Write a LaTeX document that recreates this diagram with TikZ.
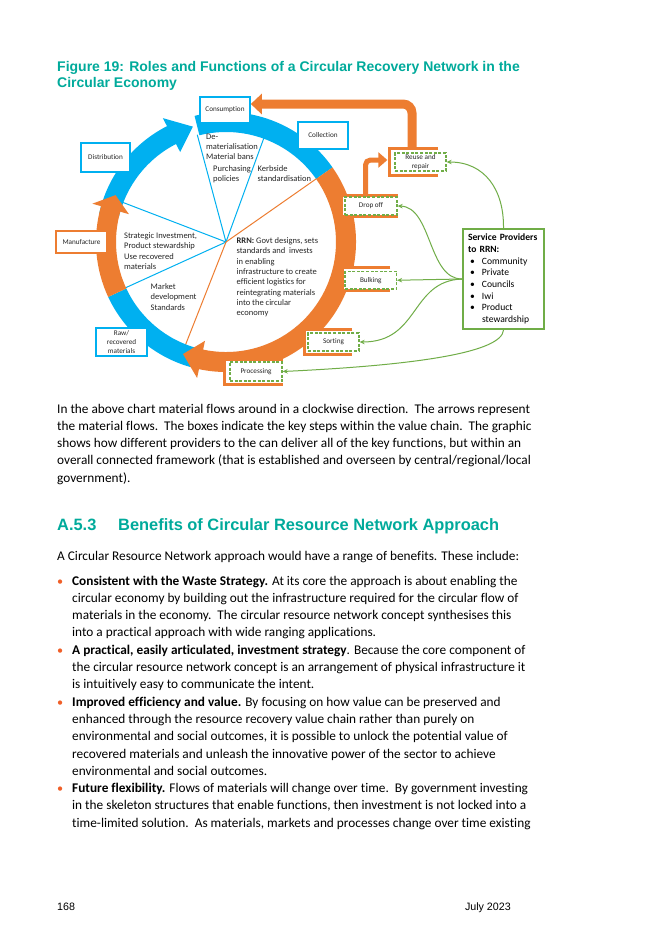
\documentclass[tikz,border=0pt]{standalone}
\usepackage{fontspec}
\setmainfont{Carlito}[Ligatures=CommonOff]
\newfontfamily\arialfont{Liberation Sans}
\usetikzlibrary{arrows.meta}
\definecolor{rrnblue}{RGB}{0,176,240}
\definecolor{rrnorange}{RGB}{237,125,49}
\definecolor{rrngreen}{RGB}{112,173,71}
\definecolor{rrnteal}{RGB}{0,170,155}
\definecolor{dotred}{RGB}{240,95,40}
\def\ringband[#1](#2:#3){\fill[#1] (#2:130) arc (#2:#3:130) -- (#3:110) arc (#3:#2:110) -- cycle;}
\def\ringarrow[#1](#2:#3:#4){\fill[#1] (#2:130) arc (#2:#3:130) -- (#3:139) -- (#4:120) -- (#3:101) -- (#3:110) arc (#3:#2:110) -- cycle;}
\def\socket(#1,#2)(#3,#4){\fill[white] (#1,#2) rectangle (#3,#4); \draw[socketline] (#3,#2) -| (#1,#4) -- (#3,#4);}

\begin{document}
\begin{tikzpicture}[x=1pt, y=-1pt,
	stagebox/.style={draw, fill=white, line width=1.6pt, inner sep=0pt, align=center, text=black!85, font=\fontsize{7.2}{8.8}\selectfont},
	stepbox/.style={draw=rrngreen, dash pattern=on 3pt off 1.6pt, line width=1.3pt, fill=white, inner sep=0pt, align=center, text=black!85, font=\fontsize{7.2}{8.8}\selectfont},
	note/.style={inner sep=0pt, align=left, anchor=base west, text=black!85, font=\fontsize{8.5}{10.3}\selectfont},
	socketline/.style={rrnorange, line width=3pt},
	feed/.style={rrngreen, line width=1pt, -{Stealth[length=5pt,width=4.5pt]}},
	bigflow/.style={rrnorange, line width=9pt, rounded corners=9pt, -{Triangle[width=20pt,length=11pt]}},
	smallflow/.style={rrnorange, line width=5pt, rounded corners=5pt, -{Triangle[width=15pt,length=9pt]}},
	bodytext/.style={inner sep=0pt, align=left, anchor=base west, font=\fontsize{13.3}{17.3}\selectfont},
	bulletdot/.style={inner sep=0pt, anchor=base west, text=dotred, font=\fontsize{12.2}{14}\selectfont}]
	%%%%% START %%%%%
	
	\fill[white] (0,0) rectangle (645,934);
	\useasboundingbox (0,0) rectangle (645,934);
	
	% multi-line nodes sit on the baseline of their last line
	\node[inner sep=0pt, anchor=base west, align=left, text=rrnteal, font=\arialfont\bfseries\fontsize{14}{16}\selectfont] (title) at (57,87) {Figure 19: Roles and Functions of a Circular Recovery Network in the\\Circular Economy};
	
	% ring, spokes first
	\begin{scope}[shift={(226,242)}, y=1pt]
		\draw[rrnblue, line width=1pt] (0,0) -- (105:111);
		\draw[rrnblue, line width=1pt] (0,0) -- (70:111);
		\draw[rrnblue, line width=1pt] (0,0) -- (159:111);
		\draw[rrnblue, line width=1pt] (0,0) -- (204.5:111);
		\draw[rrnorange, line width=1pt] (0,0) -- (248.5:111);
		\draw[rrnorange, line width=1pt] (0,0) -- (35:111);
		
		\ringband[rrnblue](104:35)
		\ringband[rrnblue](255:205)
		\ringarrow[rrnblue](167:117:106)
		\ringarrow[rrnorange](35:-102:-111)
		\ringarrow[rrnorange](205:164:157)
	\end{scope}
	
	\node[note] (dematl) at (206,159.6) {De-\\materialisation\\Material bans};
	\node[note] (purch) at (213,181.8) {Purchasing\\policies};
	\node[note] (kerb) at (257.5,181.8) {Kerbside\\standardisation};
	\node[note] (strat) at (124,269.4) {Strategic Investment,\\Product stewardship\\Use recovered\\materials};
	\node[note] (market) at (150.5,310.1) {Market\\development\\Standards};
	\node[note] (rrn) at (236.5,315.6) {\textbf{RRN:} Govt designs, sets\\standards and\ \ invests\\in enabling\\infrastructure to create\\efficient logistics for\\reintegrating materials\\into the circular\\economy};
	
	% stages on the ring
	\node[stagebox, draw=rrnblue, minimum width=50pt, minimum height=26pt] (cons) at (225,110) {Consumption};
	\node[stagebox, draw=rrnblue, minimum width=49pt, minimum height=29pt] (dist) at (105.5,157.5) {Distribution};
	\node[stagebox, draw=rrnblue, minimum width=50pt, minimum height=27pt] (coll) at (323,135.5) {Collection};
	\node[stagebox, draw=rrnorange, minimum width=51pt, minimum height=22pt] (manu) at (81.5,242) {Manufacture};
	\node[stagebox, draw=rrnblue, minimum width=51pt, minimum height=28pt] (raw) at (121.5,342) {Raw/\\recovered\\materials};
	
	\socket(389.5,148.5)(438,175.5)
	\socket(341,195.5)(398,216.5)
	\socket(342,267.5)(390,290)
	\socket(304.5,329.5)(352,354.5)
	\socket(224.5,359.5)(283,384.5)
	
	\node[stepbox, minimum width=51pt, minimum height=18pt] (reuse) at (420.5,162) {Reuse and\\repair};
	\node[stepbox, minimum width=52pt, minimum height=18pt] (dropoff) at (371,206) {Drop off};
	\node[stepbox, minimum width=51.5pt, minimum height=17.5pt] (bulking) at (370.75,280.25) {Bulking};
	\node[stepbox, minimum width=51pt, minimum height=18pt] (sorting) at (333.5,342) {Sorting};
	\node[stepbox, minimum width=52pt, minimum height=19pt] (processing) at (256,371.5) {Processing};
	
	\coordinate (reusetop) at (412,148);
	\coordinate (droptop) at (365.5,195);
	\draw[bigflow] (reusetop) |- ([yshift=6pt]cons.east);
	\draw[smallflow] (droptop) |- ([xshift=-7pt,yshift=2pt]reuse.west);
	
	\node[draw=rrngreen, line width=2pt, fill=white, minimum width=81pt, minimum height=100pt, text width=71pt, inner sep=0pt, align=left, font=\fontsize{9.6}{11.7}\selectfont] (spr) at (503.5,279) {\textbf{Service Providers}\\\textbf{to RRN:}\\\hspace*{2pt}\makebox[12pt][l]{\textbullet}Community\\\hspace*{2pt}\makebox[12pt][l]{\textbullet}Private\\\hspace*{2pt}\makebox[12pt][l]{\textbullet}Councils\\\hspace*{2pt}\makebox[12pt][l]{\textbullet}Iwi\\\hspace*{2pt}\makebox[12pt][l]{\textbullet}Product\\\hspace*{14pt}stewardship};
	
	\draw[feed] (spr.north) .. controls (504,190) and (485,162) .. (reuse.east);
	\draw[feed] (spr.west) .. controls (428,279) and (432,207) .. (dropoff.east);
	\draw[feed] (spr.west) -- (bulking.east);
	\draw[feed] (spr.west) .. controls (410,281) and (420,342) .. (sorting.east);
	\draw[feed] (spr.south) .. controls (502,352) and (420,365) .. (processing.east);
	
	% page text
	\node[bodytext] (para) at (57,482.2) {In the above chart material flows around in a clockwise direction.\ \ The arrows represent\\the material flows.\ \ The boxes indicate the key steps within the value chain.\ \ The graphic\\shows how different providers to the can deliver all of the key functions, but within an\\overall connected framework (that is established and overseen by central/regional/local\\government).};
	
	\node[inner sep=0pt, anchor=base west, text=rrnteal, font=\arialfont\bfseries\fontsize{16.4}{20}\selectfont] (sechead) at (57,530.5) {\makebox[61pt][l]{A.5.3}Benefits of Circular Resource Network Approach};
	
	\node[bodytext] (intro) at (57,560) {A Circular Resource Network approach would have a range of benefits. These include:};
	
	\node[bulletdot] (dot1) at (57,585) {\textbullet};
	\node[bodytext] (ben1) at (72,636.9) {\textbf{Consistent with the Waste Strategy.} At its core the approach is about enabling the\\circular economy by building out the infrastructure required for the circular flow of\\materials in the economy.\ \ The circular resource network concept synthesises this\\into a practical approach with wide ranging applications.};
	\node[bulletdot] (dot2) at (57,654.2) {\textbullet};
	\node[bodytext] (ben2) at (72,688.8) {\textbf{A practical, easily articulated, investment strategy}. Because the core component of\\the circular resource network concept is an arrangement of physical infrastructure it\\is intuitively easy to communicate the intent.};
	\node[bulletdot] (dot3) at (57,706.1) {\textbullet};
	\node[bodytext] (ben3) at (72,775.3) {\textbf{Improved efficiency and value.} By focusing on how value can be preserved and\\enhanced through the resource recovery value chain rather than purely on\\environmental and social outcomes, it is possible to unlock the potential value of\\recovered materials and unleash the innovative power of the sector to achieve\\environmental and social outcomes.};
	\node[bulletdot] (dot4) at (57,792.6) {\textbullet};
	\node[bodytext] (ben4) at (72,827.2) {\textbf{Future flexibility.} Flows of materials will change over time.\ \ By government investing\\in the skeleton structures that enable functions, then investment is not locked into a\\time-limited solution.\ \ As materials, markets and processes change over time existing};
	
	\node[inner sep=0pt, anchor=base west, font=\arialfont\fontsize{10.7}{12}\selectfont] (pageno) at (57,910) {168};
	\node[inner sep=0pt, anchor=base east, font=\arialfont\fontsize{10.7}{12}\selectfont] (pagedate) at (511,910) {July 2023};
	
	%%%%% END %%%%%
\end{tikzpicture}
\end{document}
